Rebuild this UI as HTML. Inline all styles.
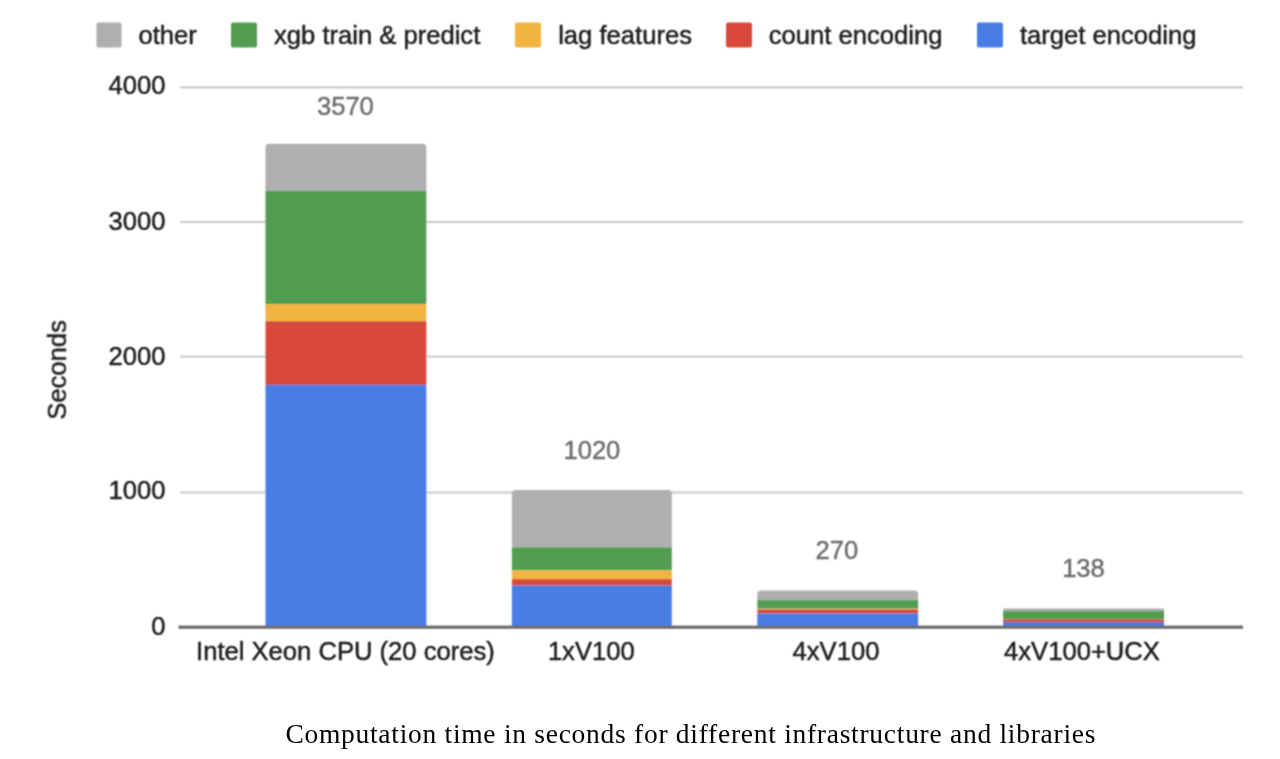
<!DOCTYPE html>
<html>
<head>
<meta charset="utf-8">
<style>
html,body{margin:0;padding:0;background:#fff;}
body{width:1280px;height:759px;overflow:hidden;position:relative;}
svg{position:absolute;left:0;top:0;display:block;}
.s{font-family:"Liberation Sans",sans-serif;font-size:25.6px;}
.lg{fill:#1c1c1c;stroke:#1c1c1c;stroke-width:0.45px;}
.ax{fill:#1c1c1c;stroke:#1c1c1c;stroke-width:0.45px;}
.vl{fill:#6e6e6e;stroke:#6e6e6e;stroke-width:0.45px;}
.cap{font-family:"Liberation Serif",serif;font-size:27.5px;fill:#000;}
</style>
</head>
<body>
<svg width="1280" height="759" viewBox="0 0 1280 759">
  <defs><filter id="b" x="0" y="0" width="1280" height="759" filterUnits="userSpaceOnUse"><feConvolveMatrix order="3" kernelMatrix="1 2 1 2 4 2 1 2 1" divisor="16" edgeMode="none" preserveAlpha="false"/></filter></defs>
  <g filter="url(#b)">
  <!-- legend -->
  <rect x="96.5" y="22.5" width="25" height="25" rx="2" fill="#afafaf"/>
  <text class="s lg" x="138.5" y="43.6">other</text>
  <rect x="231" y="22.5" width="26" height="25" rx="2" fill="#539d51"/>
  <text class="s lg" x="274" y="43.6">xgb train &amp; predict</text>
  <rect x="515" y="22.5" width="26" height="25" rx="2" fill="#f1b43f"/>
  <text class="s lg" x="558.2" y="43.6">lag features</text>
  <rect x="726" y="22.5" width="26" height="25" rx="2" fill="#d84a3a"/>
  <text class="s lg" x="768.8" y="43.6">count encoding</text>
  <rect x="977" y="22.5" width="26" height="25" rx="2" fill="#497de6"/>
  <text class="s lg" x="1020" y="43.6">target encoding</text>

  <!-- gridlines -->
  <rect x="180" y="86.4" width="1063" height="2" fill="#c8c8c8"/>
  <rect x="180" y="221" width="1063" height="2" fill="#c8c8c8"/>
  <rect x="180" y="355.6" width="1063" height="2" fill="#c8c8c8"/>
  <rect x="180" y="491.5" width="1063" height="2" fill="#c8c8c8"/>

  <!-- y labels -->
  <text class="s ax" x="165.5" y="93.9" text-anchor="end">4000</text>
  <text class="s ax" x="165.5" y="229.6" text-anchor="end">3000</text>
  <text class="s ax" x="165.5" y="365.3" text-anchor="end">2000</text>
  <text class="s ax" x="165.5" y="499.2" text-anchor="end">1000</text>
  <text class="s ax" x="165.5" y="635" text-anchor="end">0</text>

  <!-- bar 1 -->
  <path d="M265.5 190.8 V147.5 Q265.5 143.8 269.2 143.8 H422.6 Q426.3 143.8 426.3 147.5 V190.8 Z" fill="#afafaf"/>
  <rect x="265.5" y="190.8" width="160.8" height="113.3" fill="#539d51"/>
  <rect x="265.5" y="304.1" width="160.8" height="17.1" fill="#f1b43f"/>
  <rect x="265.5" y="321.2" width="160.8" height="63.7" fill="#d84a3a"/>
  <rect x="265.5" y="384.9" width="160.8" height="241.1" fill="#497de6"/>

  <!-- bar 2 -->
  <path d="M511.9 547.2 V493.5 Q511.9 489.9 515.5 489.9 H668.2 Q671.8 489.9 671.8 493.5 V547.2 Z" fill="#afafaf"/>
  <rect x="511.9" y="547.2" width="159.9" height="23.2" fill="#539d51"/>
  <rect x="511.9" y="570.4" width="159.9" height="8.7" fill="#f1b43f"/>
  <rect x="511.9" y="579.1" width="159.9" height="6.5" fill="#d84a3a"/>
  <rect x="511.9" y="585.6" width="159.9" height="40.4" fill="#497de6"/>

  <!-- bar 3 -->
  <path d="M757.3 600.1 V594 Q757.3 590.4 760.9 590.4 H914.5 Q918.1 590.4 918.1 594 V600.1 Z" fill="#afafaf"/>
  <rect x="757.3" y="600.1" width="160.8" height="8.6" fill="#539d51"/>
  <rect x="757.3" y="608.7" width="160.8" height="0.8" fill="#f1b43f"/>
  <rect x="757.3" y="609.5" width="160.8" height="4" fill="#d84a3a"/>
  <rect x="757.3" y="613.5" width="160.8" height="12.5" fill="#497de6"/>

  <!-- bar 4 -->
  <path d="M1003.1 611.1 V609.6 Q1003.1 608.6 1004.1 608.6 H1163 Q1164 608.6 1164 609.6 V611.1 Z" fill="#afafaf"/>
  <rect x="1003.1" y="611.1" width="160.9" height="8.2" fill="#539d51"/>
  <rect x="1003.1" y="619.3" width="160.9" height="2.7" fill="#d84a3a"/>
  <rect x="1003.1" y="622" width="160.9" height="4" fill="#497de6"/>

  <!-- zero axis -->
  <rect x="178.5" y="625.6" width="1064.5" height="3.2" fill="#6c6c6c"/>

  <!-- value labels -->
  <text class="s vl" x="345.4" y="115.1" text-anchor="middle">3570</text>
  <text class="s vl" x="591.9" y="458.5" text-anchor="middle">1020</text>
  <text class="s vl" x="836.8" y="559.1" text-anchor="middle">270</text>
  <text class="s vl" x="1083.5" y="576.6" text-anchor="middle">138</text>

  <!-- x labels -->
  <text class="s ax" x="345.4" y="660.2" text-anchor="middle">Intel Xeon CPU (20 cores)</text>
  <text class="s ax" x="591.3" y="660.1" text-anchor="middle">1xV100</text>
  <text class="s ax" x="836" y="660.2" text-anchor="middle">4xV100</text>
  <text class="s ax" x="1082" y="660.4" text-anchor="middle">4xV100+UCX</text>

  <!-- y title -->
  <text class="s ax" transform="translate(65.9 369.9) rotate(-90)" text-anchor="middle">Seconds</text>

  </g>
  <!-- caption -->
  <text class="cap" x="285.4" y="743.3" textLength="810" lengthAdjust="spacing">Computation time in seconds for different infrastructure and libraries</text>
</svg>
</body>
</html>
